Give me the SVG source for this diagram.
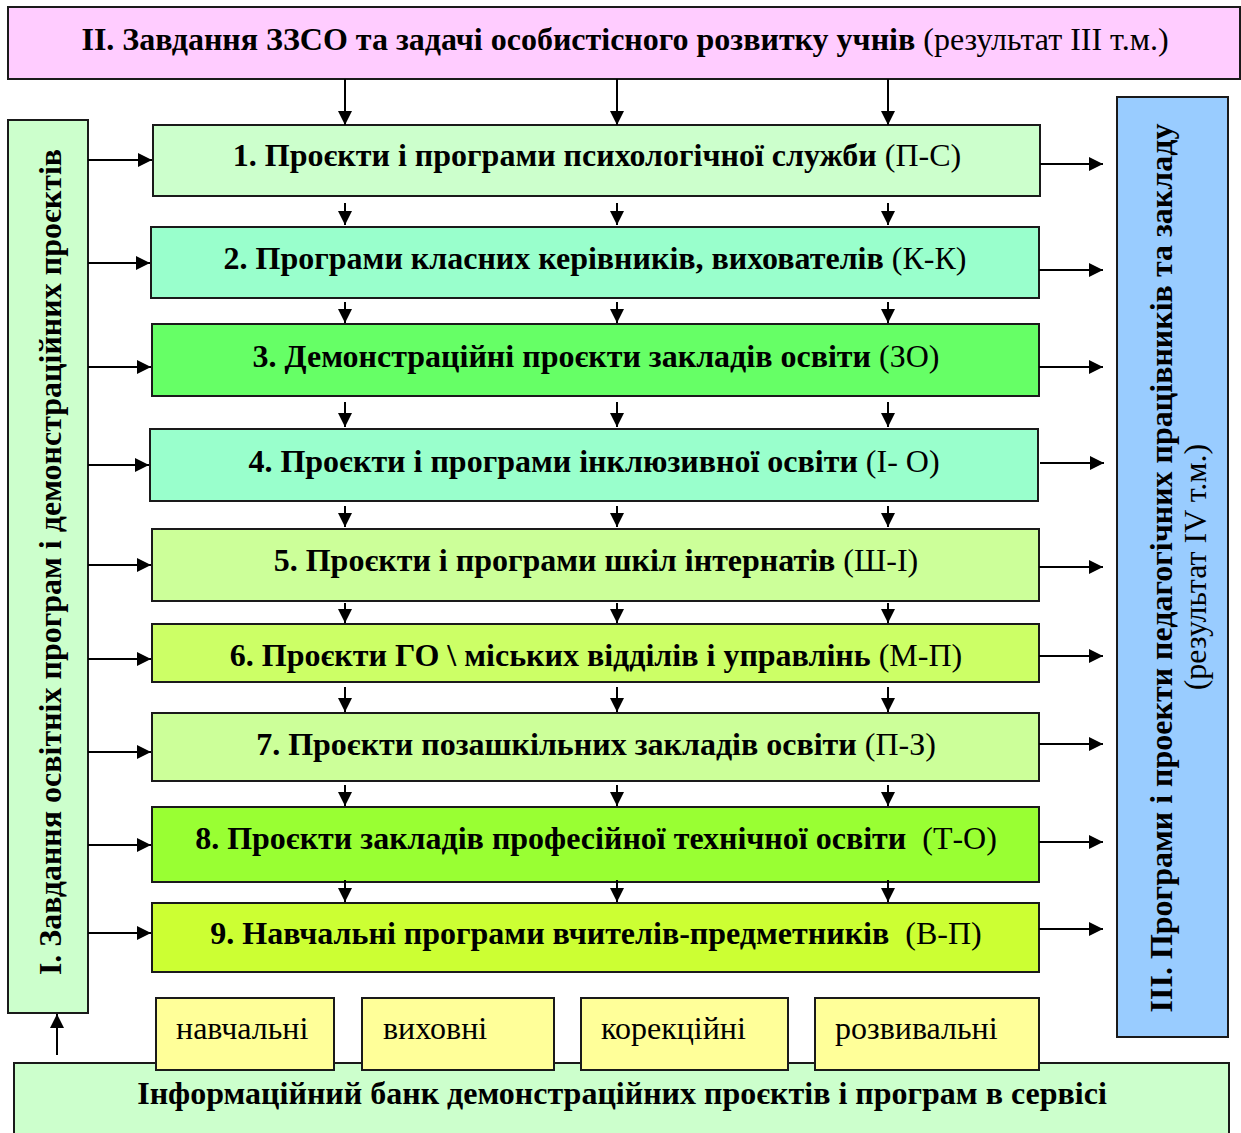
<svg xmlns="http://www.w3.org/2000/svg" width="1241" height="1133" viewBox="0 0 1241 1133">
<defs>
<marker id="ah" markerWidth="14" markerHeight="14" refX="14" refY="7" orient="auto" markerUnits="userSpaceOnUse">
<path d="M0,0 L14,7 L0,14 Z" fill="#000"/>
</marker>
<style>
.box{stroke:#1a1a1a;stroke-width:2}
.t{font-family:"Liberation Serif","Times New Roman",serif;font-size:32px;fill:#000;text-anchor:middle}
.b{font-weight:bold}
.n{font-weight:normal}
.c{stroke:#000;stroke-width:2;fill:none;marker-end:url(#ah)}
.s{font-family:"Liberation Serif","Times New Roman",serif;font-size:32px;fill:#000}
</style>
</defs>
<rect width="1241" height="1133" fill="#fff"/>

<g id="bank">
<rect class="box" x="14" y="1063" width="1215" height="80" fill="#ccffcc"/>
<text class="t b" x="622" y="1104">Інформаційний банк демонстраційних проєктів і програм в сервісі</text>
</g>

<g id="top">
<rect class="box" x="8" y="7" width="1232" height="72" fill="#ffccff"/>
<text class="t" x="625" y="50"><tspan class="b">II. Завдання ЗЗСО та задачі особистісного розвитку учнів</tspan> <tspan class="n">(результат III т.м.)</tspan></text>
</g>

<g id="left">
<rect class="box" x="8" y="120" width="80" height="893" fill="#ccffcc"/>
<text class="t b" transform="translate(61,562) rotate(-90)">I. Завдання освітніх програм і демонстраційних проєктів</text>
</g>

<g id="right">
<rect class="box" x="1117" y="97" width="111" height="940" fill="#99ccff"/>
<text class="t b" transform="translate(1172,568) rotate(-90)">III. Програми і проекти педагогічних працівників та закладу</text>
<text class="t n" transform="translate(1206,567) rotate(-90)">(результат IV т.м.)</text>
</g>

<g id="r1"><rect class="box" x="153" y="125" width="887" height="71" fill="#ccffcc"/>
<text class="t" x="597" y="166"><tspan class="b">1. Проєкти і програми психологічної служби</tspan> <tspan class="n">(П-С)</tspan></text></g>
<g id="r2"><rect class="box" x="151" y="227" width="888" height="71" fill="#99ffcc"/>
<text class="t" x="595" y="269"><tspan class="b">2. Програми класних керівників, вихователів</tspan> <tspan class="n">(К-К)</tspan></text></g>
<g id="r3"><rect class="box" x="152" y="324" width="887" height="72" fill="#66ff66"/>
<text class="t" x="596" y="367"><tspan class="b">3. Демонстраційні проєкти закладів освіти</tspan> <tspan class="n">(ЗО)</tspan></text></g>
<g id="r4"><rect class="box" x="150" y="429" width="888" height="72" fill="#99ffcc"/>
<text class="t" x="594" y="472"><tspan class="b">4. Проєкти і програми інклюзивної освіти</tspan> <tspan class="n">(І- О)</tspan></text></g>
<g id="r5"><rect class="box" x="152" y="529" width="887" height="72" fill="#ccff99"/>
<text class="t" x="596" y="571"><tspan class="b">5. Проєкти і програми шкіл інтернатів</tspan> <tspan class="n">(Ш-І)</tspan></text></g>
<g id="r6"><rect class="box" x="152" y="624" width="887" height="58" fill="#ccff66"/>
<text class="t" x="596" y="666"><tspan class="b">6. Проєкти ГО \ міських відділів і управлінь</tspan> <tspan class="n">(М-П)</tspan></text></g>
<g id="r7"><rect class="box" x="152" y="713" width="887" height="68" fill="#ccff99"/>
<text class="t" x="596" y="755"><tspan class="b">7. Проєкти позашкільних закладів освіти</tspan> <tspan class="n">(П-З)</tspan></text></g>
<g id="r8"><rect class="box" x="152" y="807" width="887" height="75" fill="#99ff33"/>
<text class="t" x="596" y="849" xml:space="preserve"><tspan class="b">8. Проєкти закладів професійної технічної освіти</tspan>  <tspan class="n">(Т-О)</tspan></text></g>
<g id="r9"><rect class="box" x="152" y="903" width="887" height="69" fill="#ccff33"/>
<text class="t" x="596" y="944" xml:space="preserve"><tspan class="b">9. Навчальні програми вчителів-предметників</tspan>  <tspan class="n">(В-П)</tspan></text></g>

<g id="k1"><rect class="box" x="156" y="998" width="178" height="72" fill="#ffff99"/><text class="s" x="176" y="1039">навчальні</text></g>
<g id="k2"><rect class="box" x="362" y="998" width="192" height="72" fill="#ffff99"/><text class="s" x="383" y="1039">виховні</text></g>
<g id="k3"><rect class="box" x="581" y="998" width="207" height="72" fill="#ffff99"/><text class="s" x="601" y="1039">корекційні</text></g>
<g id="k4"><rect class="box" x="815" y="998" width="224" height="72" fill="#ffff99"/><text class="s" x="835" y="1039">розвивальні</text></g>

<g id="connectors">
<line class="c" x1="345" y1="79" x2="345" y2="125"/><line class="c" x1="617" y1="79" x2="617" y2="125"/><line class="c" x1="888" y1="79" x2="888" y2="125"/>
<line class="c" x1="345" y1="203" x2="345" y2="225"/><line class="c" x1="617" y1="203" x2="617" y2="225"/><line class="c" x1="888" y1="203" x2="888" y2="225"/>
<line class="c" x1="345" y1="302" x2="345" y2="323"/><line class="c" x1="617" y1="302" x2="617" y2="323"/><line class="c" x1="888" y1="302" x2="888" y2="323"/>
<line class="c" x1="345" y1="402" x2="345" y2="427"/><line class="c" x1="617" y1="402" x2="617" y2="427"/><line class="c" x1="888" y1="402" x2="888" y2="427"/>
<line class="c" x1="345" y1="506" x2="345" y2="527"/><line class="c" x1="617" y1="506" x2="617" y2="527"/><line class="c" x1="888" y1="506" x2="888" y2="527"/>
<line class="c" x1="345" y1="603" x2="345" y2="623"/><line class="c" x1="617" y1="603" x2="617" y2="623"/><line class="c" x1="888" y1="603" x2="888" y2="623"/>
<line class="c" x1="345" y1="687" x2="345" y2="712"/><line class="c" x1="617" y1="687" x2="617" y2="712"/><line class="c" x1="888" y1="687" x2="888" y2="712"/>
<line class="c" x1="345" y1="785" x2="345" y2="806"/><line class="c" x1="617" y1="785" x2="617" y2="806"/><line class="c" x1="888" y1="785" x2="888" y2="806"/>
<line class="c" x1="345" y1="880" x2="345" y2="902"/><line class="c" x1="617" y1="880" x2="617" y2="902"/><line class="c" x1="888" y1="880" x2="888" y2="902"/>
<line class="c" x1="88" y1="160" x2="152" y2="160"/>
<line class="c" x1="88" y1="263" x2="150" y2="263"/>
<line class="c" x1="88" y1="367" x2="151" y2="367"/>
<line class="c" x1="88" y1="465" x2="149" y2="465"/>
<line class="c" x1="88" y1="565" x2="151" y2="565"/>
<line class="c" x1="88" y1="659" x2="151" y2="659"/>
<line class="c" x1="88" y1="752" x2="151" y2="752"/>
<line class="c" x1="88" y1="845" x2="151" y2="845"/>
<line class="c" x1="88" y1="933" x2="151" y2="933"/>
<line class="c" x1="1040" y1="164" x2="1103" y2="164"/>
<line class="c" x1="1039" y1="270" x2="1103" y2="270"/>
<line class="c" x1="1039" y1="367" x2="1103" y2="367"/>
<line class="c" x1="1040" y1="463" x2="1104" y2="463"/>
<line class="c" x1="1039" y1="567" x2="1103" y2="567"/>
<line class="c" x1="1039" y1="656" x2="1103" y2="656"/>
<line class="c" x1="1039" y1="744" x2="1103" y2="744"/>
<line class="c" x1="1039" y1="842" x2="1103" y2="842"/>
<line class="c" x1="1039" y1="929" x2="1103" y2="929"/>
<line class="c" x1="57" y1="1055" x2="57" y2="1014"/>
</g>
</svg>
